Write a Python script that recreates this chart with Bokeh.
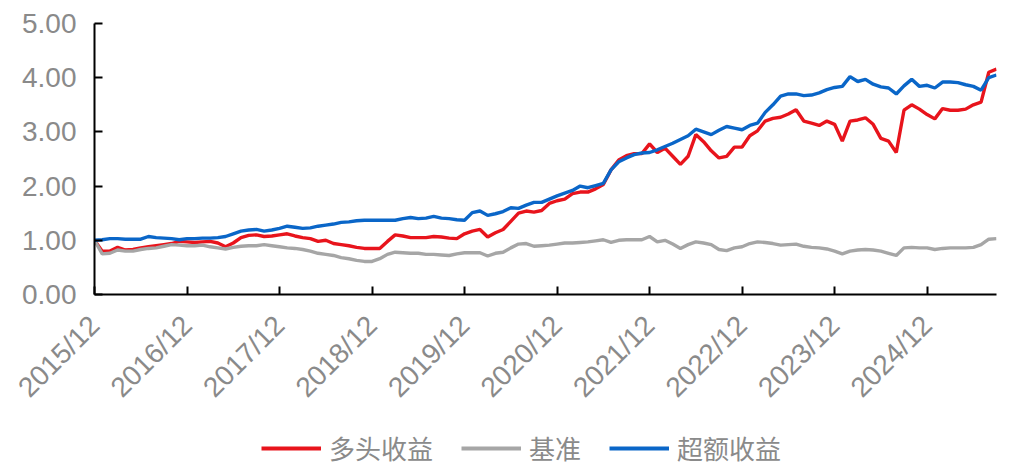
import math
from bokeh.plotting import figure
from bokeh.layouts import column
from bokeh.models import Range1d, FixedTicker, Legend, LegendItem, NumeralTickFormatter
from bokeh.embed import file_html
from bokeh.resources import INLINE

# monthly observations 2015/12 .. 2025/09
months = list(range(118))
tick_positions = [0, 12, 24, 36, 48, 60, 72, 84, 96, 108]
tick_labels = ["2015/12", "2016/12", "2017/12", "2018/12", "2019/12",
               "2020/12", "2021/12", "2022/12", "2023/12", "2024/12"]
series_names = ["多头收益", "基准", "超额收益"]

long_ret = [1.00, 0.80, 0.80, 0.87, 0.82, 0.83, 0.86, 0.88, 0.90, 0.92,
            0.94, 0.98, 0.97, 0.96, 0.97, 0.98, 0.95, 0.88, 0.95, 1.05,
            1.09, 1.10, 1.07, 1.08, 1.10, 1.12, 1.08, 1.05, 1.03, 0.98,
            1.00, 0.94, 0.92, 0.90, 0.87, 0.85, 0.85, 0.85, 0.98, 1.10,
            1.08, 1.05, 1.05, 1.05, 1.07, 1.06, 1.04, 1.03, 1.12, 1.17,
            1.20, 1.06, 1.14, 1.20, 1.35, 1.50, 1.54, 1.52, 1.55, 1.68,
            1.73, 1.76, 1.86, 1.89, 1.89, 1.95, 2.03, 2.30, 2.48, 2.56,
            2.60, 2.60, 2.78, 2.62, 2.70, 2.55, 2.40, 2.55, 2.95, 2.82,
            2.65, 2.52, 2.55, 2.72, 2.72, 2.93, 3.02, 3.20, 3.25, 3.27,
            3.33, 3.41, 3.20, 3.16, 3.12, 3.20, 3.14, 2.83, 3.20, 3.22,
            3.26, 3.14, 2.88, 2.83, 2.62, 3.40, 3.50, 3.42, 3.32, 3.24,
            3.43, 3.40, 3.40, 3.42, 3.50, 3.55, 4.10, 4.16]

benchmark = [1.00, 0.75, 0.76, 0.82, 0.80, 0.80, 0.83, 0.85, 0.86, 0.89,
             0.92, 0.91, 0.90, 0.90, 0.91, 0.88, 0.86, 0.84, 0.87, 0.89,
             0.90, 0.90, 0.92, 0.90, 0.88, 0.86, 0.85, 0.83, 0.80, 0.76,
             0.74, 0.72, 0.68, 0.66, 0.63, 0.61, 0.61, 0.66, 0.74, 0.78,
             0.77, 0.76, 0.76, 0.74, 0.74, 0.73, 0.72, 0.75, 0.77, 0.77,
             0.77, 0.71, 0.76, 0.78, 0.86, 0.93, 0.94, 0.89, 0.90, 0.91,
             0.93, 0.95, 0.95, 0.96, 0.97, 0.99, 1.01, 0.96, 1.00, 1.01,
             1.01, 1.01, 1.07, 0.97, 1.00, 0.93, 0.85, 0.92, 0.97, 0.95,
             0.92, 0.83, 0.81, 0.86, 0.88, 0.94, 0.97, 0.96, 0.94, 0.91,
             0.92, 0.93, 0.89, 0.87, 0.86, 0.84, 0.80, 0.75, 0.80, 0.82,
             0.83, 0.82, 0.80, 0.76, 0.72, 0.86, 0.87, 0.86, 0.86, 0.83,
             0.85, 0.86, 0.86, 0.86, 0.87, 0.92, 1.02, 1.03]

excess = [1.00, 1.01, 1.03, 1.03, 1.02, 1.02, 1.02, 1.07, 1.05, 1.04,
          1.03, 1.01, 1.03, 1.03, 1.04, 1.04, 1.05, 1.07, 1.12, 1.17,
          1.19, 1.20, 1.17, 1.19, 1.22, 1.26, 1.24, 1.22, 1.23, 1.26,
          1.28, 1.30, 1.33, 1.34, 1.36, 1.37, 1.37, 1.37, 1.37, 1.37,
          1.40, 1.42, 1.40, 1.41, 1.44, 1.41, 1.40, 1.38, 1.37, 1.51,
          1.54, 1.46, 1.49, 1.53, 1.60, 1.59, 1.65, 1.70, 1.70, 1.76,
          1.82, 1.87, 1.92, 2.00, 1.97, 2.01, 2.05, 2.30, 2.45, 2.52,
          2.58, 2.61, 2.62, 2.67, 2.73, 2.79, 2.86, 2.93, 3.05, 3.00,
          2.95, 3.03, 3.10, 3.07, 3.04, 3.12, 3.16, 3.36, 3.50, 3.66,
          3.70, 3.70, 3.67, 3.68, 3.72, 3.78, 3.82, 3.84, 4.02, 3.93,
          3.97, 3.88, 3.83, 3.81, 3.70, 3.85, 3.97, 3.84, 3.86, 3.81,
          3.92, 3.92, 3.91, 3.87, 3.84, 3.77, 4.00, 4.05]

colors = ["#e8141c", "#a6a6a6", "#0a66c8"]
text_gray = "#8a8a8a"

p = figure(width=1002, height=418, output_backend="svg", toolbar_location=None,
           x_range=Range1d(0, 117), y_range=Range1d(0, 5),
           min_border_left=94, min_border_right=6, min_border_top=23,
           min_border_bottom=124)
p.outline_line_color = None
p.xgrid.grid_line_color = None
p.ygrid.grid_line_color = None
p.background_fill_color = "white"

for ys, c in zip([long_ret, benchmark, excess], colors):
    p.line(months, ys, line_color=c, line_width=3.4)

for ax in (p.xaxis[0], p.yaxis[0]):
    ax.axis_line_color = "black"
    ax.axis_line_width = 2
    ax.major_tick_line_color = "black"
    ax.major_tick_line_width = 2
    ax.major_tick_in = 8
    ax.major_tick_out = 0
    ax.minor_tick_line_color = None
    ax.major_label_text_color = text_gray
    ax.major_label_text_font = "Liberation Sans"
    ax.major_label_text_font_size = "28px"

p.yaxis[0].ticker = FixedTicker(ticks=[0, 1, 2, 3, 4, 5])
p.yaxis[0].formatter = NumeralTickFormatter(format="0.00")
p.yaxis[0].major_label_standoff = 18

p.xaxis[0].ticker = FixedTicker(ticks=tick_positions)
p.xaxis[0].major_label_overrides = {t: l for t, l in zip(tick_positions, tick_labels)}
p.xaxis[0].major_label_orientation = math.pi / 4
p.xaxis[0].major_label_standoff = 26

# legend strip below the chart (its frame is aligned with the chart frame)
lg = figure(width=1002, height=48, output_backend="svg", toolbar_location=None,
            x_range=Range1d(0, 1), y_range=Range1d(0, 1),
            x_axis_type=None, y_axis_type=None, min_border=0)
lg.outline_line_color = None
lg.xgrid.grid_line_color = None
lg.ygrid.grid_line_color = None
# keys only: their points lie outside the strip's visible range
dummies = [lg.line([5, 6], [5, 6], line_color=c, line_width=4) for c in colors]
legend = Legend(items=[LegendItem(label=n, renderers=[r]) for n, r in zip(series_names, dummies)],
                orientation="horizontal", location=(167, 0),
                glyph_width=60, glyph_height=28, label_height=28,
                label_standoff=8, spacing=28, padding=0, margin=0,
                border_line_color=None, background_fill_alpha=0,
                label_text_font="Noto Sans CJK SC", label_text_font_size="26px",
                label_text_color=text_gray)
lg.add_layout(legend, "center")

layout = column(p, lg, spacing=0)
open("out.html", "w").write(file_html(layout, INLINE))
